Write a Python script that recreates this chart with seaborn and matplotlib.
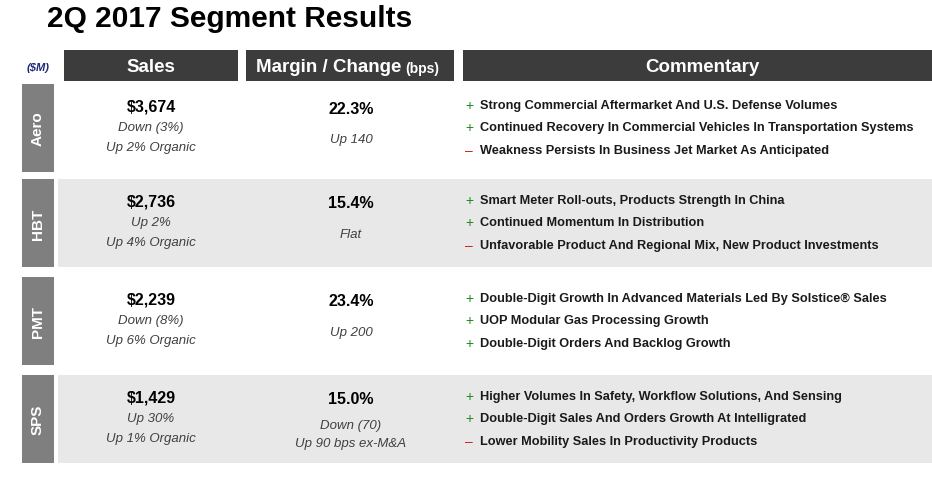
import matplotlib
matplotlib.use("Agg")
import matplotlib.pyplot as plt
import seaborn as sns
from matplotlib.patches import Rectangle

# ==========================================
# Data
# ==========================================
segments = ["Aero", "HBT", "PMT", "SPS"]
sales = ["$3,674", "$2,736", "$2,239", "$1,429"]
sales_change = ["Down (3%)", "Up 2%", "Down (8%)", "Up 30%"]
sales_organic = ["Up 2% Organic", "Up 4% Organic", "Up 6% Organic", "Up 1% Organic"]
margin = ["22.3%", "15.4%", "23.4%", "15.0%"]
margin_change = ["Up 140", "Flat", "Up 200", "Down (70)"]
margin_extra = ["", "", "", "Up 90 bps ex-M&A"]
comments = [
    ["Strong Commercial Aftermarket And U.S. Defense Volumes",
     "Continued Recovery In Commercial Vehicles In Transportation Systems",
     "Weakness Persists In Business Jet Market As Anticipated"],
    ["Smart Meter Roll-outs, Products Strength In China",
     "Continued Momentum In Distribution",
     "Unfavorable Product And Regional Mix, New Product Investments"],
    ["Double-Digit Growth In Advanced Materials Led By Solstice\u00ae Sales",
     "UOP Modular Gas Processing Growth",
     "Double-Digit Orders And Backlog Growth"],
    ["Higher Volumes In Safety, Workflow Solutions, And Sensing",
     "Double-Digit Sales And Orders Growth At Intelligrated",
     "Lower Mobility Sales In Productivity Products"],
]
signs = [["+", "+", "-"], ["+", "+", "-"], ["+", "+", "+"], ["+", "+", "-"]]

# ==========================================
# Layout
# ==========================================
sns.set_theme(style="white", font="Liberation Sans")
fig = plt.figure(figsize=(9.32, 4.81), dpi=100)
ax = fig.add_axes([0, 0, 1, 1])
ax.set_xlim(0, 932)
ax.set_ylim(481, 0)
ax.axis("off")

dark = "#3c3c3c"
band = "#e8e8e8"
label_grey = "#7f7f7f"

ax.text(47, 19, "2Q 2017 Segment Results", fontsize=21.5, fontweight="bold",
        va="center", ha="left", color="black")

# header boxes
headers = [(64, 238, "Sales"), (246, 454, None), (463, 941, "Commentary")]
for x0, x1, lab in headers:
    ax.add_patch(Rectangle((x0, 51), x1 - x0, 31, color=dark, lw=0))
    if lab:
        ax.text((x0 + x1) / 2, 67, lab, color="white", fontsize=13.5,
                fontweight="bold", ha="center", va="center")
ax.text(401, 67, "Margin / Change", color="white", fontsize=13.5,
        fontweight="bold", ha="right", va="center")
ax.text(405, 69, "(bps)", color="white", fontsize=10,
        fontweight="bold", ha="left", va="center")
ax.text(38, 68, "($M)", color="#1f2a7a", fontsize=8, fontweight="bold",
        fontstyle="italic", ha="center", va="center")

row_top = [85, 180, 278, 376]
row_h = 88
for i, seg in enumerate(segments):
    y0 = row_top[i]
    if i % 2 == 1:
        ax.add_patch(Rectangle((58, y0), 882, row_h, color=band, lw=0))
    ax.add_patch(Rectangle((22, y0), 32, row_h, color=label_grey, lw=0))
    ax.text(38, y0 + row_h / 2, seg, rotation=90, color="white", fontsize=11,
            fontweight="bold", ha="center", va="center")

    ax.text(151, y0 + 22, sales[i], fontsize=11.5, fontweight="bold",
            ha="center", va="center", color="black")
    ax.text(151, y0 + 43, sales_change[i], fontsize=9.5, fontstyle="italic",
            ha="center", va="center", color="#404040")
    ax.text(151, y0 + 63, sales_organic[i], fontsize=9.5, fontstyle="italic",
            ha="center", va="center", color="#404040")

    ax.text(351, y0 + 24, margin[i], fontsize=11.5, fontweight="bold",
            ha="center", va="center", color="black")
    if margin_extra[i]:
        ax.text(351, y0 + 50, margin_change[i], fontsize=9.5, fontstyle="italic",
                ha="center", va="center", color="#404040")
        ax.text(351, y0 + 68, margin_extra[i], fontsize=9.5, fontstyle="italic",
                ha="center", va="center", color="#404040")
    else:
        ax.text(351, y0 + 55, margin_change[i], fontsize=9.5, fontstyle="italic",
                ha="center", va="center", color="#404040")

    for j, (txt, s) in enumerate(zip(comments[i], signs[i])):
        y = y0 + 21 + j * 22.5
        if s == "+":
            ax.text(469, y, "+", fontsize=10, color="#1e8c1e", ha="center", va="center")
        else:
            ax.text(469, y, "\u2013", fontsize=10, color="#c0281e", ha="center", va="center")
        ax.text(480, y, txt, fontsize=9.2, fontweight="bold", color="#1a1a1a",
                ha="left", va="center")

fig.savefig("out.png", dpi=100)
